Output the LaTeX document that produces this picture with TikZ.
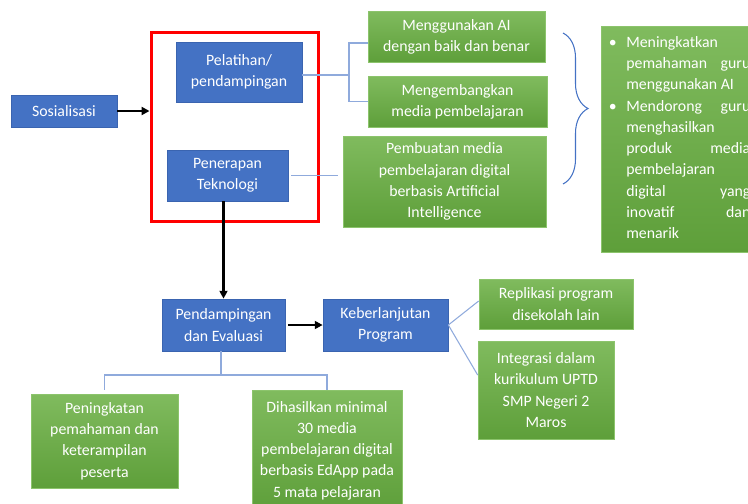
\documentclass[tikz,border=0pt]{standalone}
\usepackage{fontspec}
\setmainfont{Carlito}
\usetikzlibrary{arrows.meta,decorations.pathreplacing}
\definecolor{biru}{HTML}{4472C4}
\definecolor{birutepi}{HTML}{3A64B0}
\definecolor{hijauatas}{HTML}{80BB5E}
\definecolor{hijaubawah}{HTML}{5E9F3A}
\definecolor{hijautepi}{HTML}{8CC46C}
\definecolor{garisbiru}{HTML}{8FAADC}
\begin{document}
\begin{tikzpicture}[x=0.02cm,y=-0.02cm,font=\fontsize{9}{12.1}\selectfont,
  >={Triangle[length=4.5pt,width=4.5pt]},
  biru/.style={draw=birutepi, line width=0.4pt, fill=biru, text=white, align=center, inner sep=1pt},
  hijau/.style={draw=hijautepi, line width=0.4pt, top color=hijauatas, bottom color=hijaubawah, text=white, align=center, inner sep=1pt},
  garis/.style={draw=garisbiru, line width=0.6pt},
  panah/.style={draw, line width=1.2pt, ->}]
\useasboundingbox (0,0) rectangle (748,504);
\clip (0,0) rectangle (748,504);

\node[biru, minimum width=2.12cm, minimum height=0.64cm] (1) at (64,111) {Sosialisasi};
\node[draw=red, line width=1.7pt, minimum width=3.36cm, minimum height=3.8cm] (2) at (235,127) {};
\node[biru, minimum width=2.52cm, minimum height=1.2cm] (3) at (239,72) {Pelatihan/\\pendampingan};
\node[biru, minimum width=2.42cm, minimum height=1.02cm] (4) at (227.5,175.5) {Penerapan\\Teknologi};
\node[hijau, minimum width=3.54cm, minimum height=1.02cm] (5) at (456.5,36.5) {Menggunakan AI\\dengan baik dan benar};
\node[hijau, minimum width=3.58cm, minimum height=1.02cm] (6) at (457.5,101.5) {Mengembangkan\\media pembelajaran};
\node[hijau, minimum width=4.06cm, minimum height=1.82cm] (7) at (444.5,181.5) {Pembuatan media\\pembelajaran digital\\berbasis Artificial\\Intelligence};
\node[hijau, minimum width=3.3cm, minimum height=4.52cm] (8) at (683.5,139) {};
\node[text=white, align=left, inner sep=0pt, anchor=north west] (9) at (626,36) {\llap{\textbullet\hskip 5.5pt}Meningkatkan\\
\hbox to 2.48cm{pemahaman\hfill guru}\\
menggunakan AI\\
\llap{\textbullet\hskip 5.5pt}\hbox to 2.48cm{Mendorong\hfill guru}\\
menghasilkan\\
\hbox to 2.48cm{produk\hfill media}\\
pembelajaran\\
\hbox to 2.48cm{digital\hfill yang}\\
\hbox to 2.48cm{inovatif\hfill dan}\\
menarik};
\node[biru, minimum width=2.46cm, minimum height=1.04cm] (10) at (223.5,325) {Pendampingan\\dan Evaluasi};
\node[biru, minimum width=2.5cm, minimum height=1.04cm] (11) at (385.5,325) {Keberlanjutan\\Program};
\node[hijau, minimum width=3.08cm, minimum height=1.0cm] (12) at (556,304) {Replikasi program\\disekolah lain};
\node[hijau, minimum width=2.72cm, minimum height=1.96cm] (13) at (546,390) {Integrasi dalam\\kurikulum UPTD\\SMP Negeri 2\\Maros};
\node[hijau, minimum width=2.94cm, minimum height=1.88cm] (14) at (104.5,441) {Peningkatan\\pemahaman dan\\keterampilan\\peserta};
\node[hijau, minimum width=3.0cm, minimum height=2.42cm] (15) at (327,450.5) {Dihasilkan minimal\\30 media\\pembelajaran digital\\berbasis EdApp pada\\5 mata pelajaran};
\coordinate (j1) at (349,75);
\coordinate (j2) at (221,375);

\path[panah] (1.east) -- (1.east -| 2.west);
\path[panah] (4.south -| 10.north) -- (10.north);
\path[panah,shorten <=1.7pt] (10.east) -- (11.west);
\path[garis] (3.east |- j1) -- (j1);
\path[garis] ([yshift=-0.13cm]5.west) -| (j1) |- (6.west);
\path[garis,shorten <=1.7pt,shorten >=2.8pt] (4.east) -- (4.east -| 7.west);
\path[garis] (10.south -| j2) -- (j2);
\path[garis,shorten <=2.3pt] (14.north) |- (j2) -| (15.north);
\path[garis] (11.east) -- ([yshift=0.06cm]12.west);
\path[garis] (11.east) -- ([yshift=0.3cm]13.west);
\draw[draw=biru, line width=0.6pt, decorate, decoration={brace, amplitude=0.5cm}] (563,33) -- (563,184);
\end{tikzpicture}
\end{document}
